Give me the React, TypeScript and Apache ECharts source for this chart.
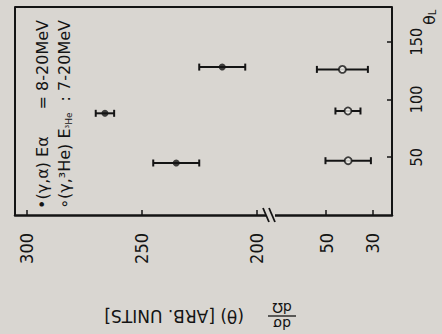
import React, { useEffect, useRef } from "react";
import * as echarts from "echarts";

// angle (deg) of the points
const thetaFilled = [45, 88, 128];
const sigmaFilled = [235, 266, 215];
const errFilledLo = [10, 4, 10];
const errFilledHi = [10, 4, 10];

const thetaOpen = [47, 90, 126];
const sigmaOpen = [40.5, 40.6, 43];
const errOpenLo = [9.8, 5.4, 11];
const errOpenHi = [9.8, 5.4, 11];

const upperTicks = [300, 250, 200];
const lowerTicks = [50, 30];
const thetaTicks = [50, 100, 150];

const BG = "#d9d6d1";
const INK = "#141414";
const NUM_FONT = "'DejaVu Sans Condensed', 'DejaVu Sans', sans-serif";
const TXT_FONT = "'DejaVu Sans', sans-serif";

function errItems(th: number[], v: number[], lo: number[], hi: number[]) {
  return th.map((t, i) => [v[i] - lo[i], v[i] + hi[i], t]);
}

function renderErr(params: any, api: any) {
  const lo = api.value(0);
  const hi = api.value(1);
  const th = api.value(2);
  const a = api.coord([lo, th]);
  const b = api.coord([hi, th]);
  const cap = 3.5;
  const st = { stroke: INK, lineWidth: 2 };
  return {
    type: "group",
    children: [
      { type: "line", shape: { x1: a[0], y1: a[1], x2: b[0], y2: b[1] }, style: st },
      { type: "line", shape: { x1: a[0], y1: a[1] - cap, x2: a[0], y2: a[1] + cap }, style: st },
      { type: "line", shape: { x1: b[0], y1: b[1] - cap, x2: b[0], y2: b[1] + cap }, style: st },
    ],
  };
}

export default function App() {
  const ref = useRef<HTMLDivElement>(null);
  useEffect(() => {
    if (!ref.current) return;
    const chart = echarts.init(ref.current, null, { renderer: "svg" });
    const split = 271;
    const left = 15, right = 392, top = 7, bottom = 215;
    const xAxisCommon = {
      type: "value",
      inverse: true,
      position: "bottom",
      splitLine: { show: false },
      axisLine: { show: true, lineStyle: { color: INK, width: 2.5 } },
      axisTick: { show: true, inside: true, length: 5, lineStyle: { color: INK, width: 1.5 } },
      axisLabel: { rotate: 90, margin: 18, color: INK, fontSize: 18, fontFamily: NUM_FONT },
    };
    const option: any = {
      animation: false,
      backgroundColor: BG,
      grid: [
        { left: left, top: top, width: split - left, height: bottom - top },
        { left: split, top: top, width: right - split, height: bottom - top },
      ],
      xAxis: [
        {
          ...xAxisCommon,
          gridIndex: 0,
          min: 193.8,
          max: 305.1,
          axisTick: { ...xAxisCommon.axisTick, customValues: upperTicks },
          axisLabel: { ...xAxisCommon.axisLabel, customValues: upperTicks },
        },
        {
          ...xAxisCommon,
          gridIndex: 1,
          min: 21.6,
          max: 73.8,
          axisTick: { ...xAxisCommon.axisTick, customValues: lowerTicks },
          axisLabel: { ...xAxisCommon.axisLabel, customValues: lowerTicks },
        },
      ],
      yAxis: [
        {
          type: "value",
          gridIndex: 0,
          min: 0,
          max: 180,
          position: "left",
          splitLine: { show: false },
          axisLine: { show: true, lineStyle: { color: INK, width: 2 } },
          axisTick: { show: false },
          axisLabel: { show: false },
        },
        {
          type: "value",
          gridIndex: 1,
          min: 0,
          max: 180,
          position: "right",
          splitLine: { show: false },
          axisLine: { show: true, lineStyle: { color: INK, width: 2 } },
          axisTick: { show: true, inside: true, length: 5, customValues: thetaTicks, lineStyle: { color: INK, width: 1.5 } },
          axisLabel: { rotate: 90, margin: 16, color: INK, fontSize: 16, fontFamily: NUM_FONT, customValues: thetaTicks },
        },
      ],
      series: [
        {
          type: "custom",
          xAxisIndex: 0,
          yAxisIndex: 0,
          renderItem: renderErr,
          encode: { x: [0, 1], y: 2 },
          data: errItems(thetaFilled, sigmaFilled, errFilledLo, errFilledHi),
          z: 2,
        },
        {
          type: "scatter",
          xAxisIndex: 0,
          yAxisIndex: 0,
          symbol: "circle",
          symbolSize: 7,
          itemStyle: { color: INK },
          data: thetaFilled.map((t, i) => [sigmaFilled[i], t]),
          z: 3,
        },
        {
          type: "custom",
          xAxisIndex: 1,
          yAxisIndex: 1,
          renderItem: renderErr,
          encode: { x: [0, 1], y: 2 },
          data: errItems(thetaOpen, sigmaOpen, errOpenLo, errOpenHi),
          z: 2,
        },
        {
          type: "scatter",
          xAxisIndex: 1,
          yAxisIndex: 1,
          symbol: "circle",
          symbolSize: 7,
          itemStyle: { color: "#f4f2ee", borderColor: INK, borderWidth: 1.8 },
          data: thetaOpen.map((t, i) => [sigmaOpen[i], t]),
          z: 3,
        },
      ],
      graphic: [
        // top frame line
        { type: "line", shape: { x1: left, y1: top, x2: right, y2: top }, style: { stroke: INK, lineWidth: 2 }, z: 10 },
        // axis break
        { type: "rect", shape: { x: 266, y: 212, width: 9, height: 6 }, style: { fill: BG }, z: 10 },
        { type: "line", shape: { x1: 263, y1: 208, x2: 269, y2: 222 }, style: { stroke: INK, lineWidth: 1.8 }, z: 11 },
        { type: "line", shape: { x1: 269, y1: 208, x2: 275, y2: 222 }, style: { stroke: INK, lineWidth: 1.8 }, z: 11 },
        // legend line 1 (rotated)
        {
          type: "text",
          x: 42,
          y: 209,
          rotation: Math.PI / 2,
          style: { text: "•(γ,α) Eα", fill: INK, font: "16px " + TXT_FONT, align: "left", verticalAlign: "middle" },
          z: 10,
        },
        {
          type: "text",
          x: 42,
          y: 20,
          rotation: Math.PI / 2,
          style: { text: "= 8-20MeV", fill: INK, font: "16px " + TXT_FONT, align: "right", verticalAlign: "middle" },
          z: 10,
        },
        // legend line 2
        {
          type: "text",
          x: 64,
          y: 209,
          rotation: Math.PI / 2,
          style: {
            text: "{a|∘(γ,³He) E}{s|³He}",
            fill: INK,
            align: "left",
            verticalAlign: "middle",
            rich: {
              a: { fontSize: 16, fontFamily: TXT_FONT, fill: INK },
              s: { fontSize: 9, fontFamily: TXT_FONT, fill: INK, padding: [9, 0, 0, 0] },
            },
          },
          z: 10,
        },
        {
          type: "text",
          x: 64,
          y: 20,
          rotation: Math.PI / 2,
          style: { text: ": 7-20MeV", fill: INK, font: "16px " + TXT_FONT, align: "right", verticalAlign: "middle" },
          z: 10,
        },
        // θ_L axis name
        {
          type: "text",
          x: 429,
          y: 25,
          rotation: Math.PI / 2,
          style: {
            text: "{t|θ}{s|L}",
            align: "left",
            verticalAlign: "middle",
            rich: {
              t: { fontSize: 16, fontFamily: TXT_FONT, fill: INK },
              s: { fontSize: 10, fontFamily: TXT_FONT, fill: INK, padding: [7, 0, 0, 0] },
            },
          },
          z: 10,
        },
        // value-axis title (upside down)
        {
          type: "group",
          x: 197,
          y: 316,
          rotation: Math.PI,
          children: [
            { type: "text", x: -85, y: -8, style: { text: "dσ", fill: INK, font: "14px " + TXT_FONT, align: "center", verticalAlign: "middle" } },
            { type: "line", shape: { x1: -99, y1: 0, x2: -71, y2: 0 }, style: { stroke: INK, lineWidth: 1.3 } },
            { type: "text", x: -85, y: 8, style: { text: "dΩ", fill: INK, font: "14px " + TXT_FONT, align: "center", verticalAlign: "middle" } },
            { type: "text", x: -47, y: 0, style: { text: "(θ) [ARB. UNITS]", fill: INK, font: "17px " + TXT_FONT, align: "left", verticalAlign: "middle" } },
          ],
          z: 10,
        },
      ],
    };
    chart.setOption(option);
    return () => chart.dispose();
  }, []);
  return (
    <div
      ref={ref}
      style={{ position: "fixed", left: 0, top: 0, width: 442, height: 334, background: BG }}
    />
  );
}
